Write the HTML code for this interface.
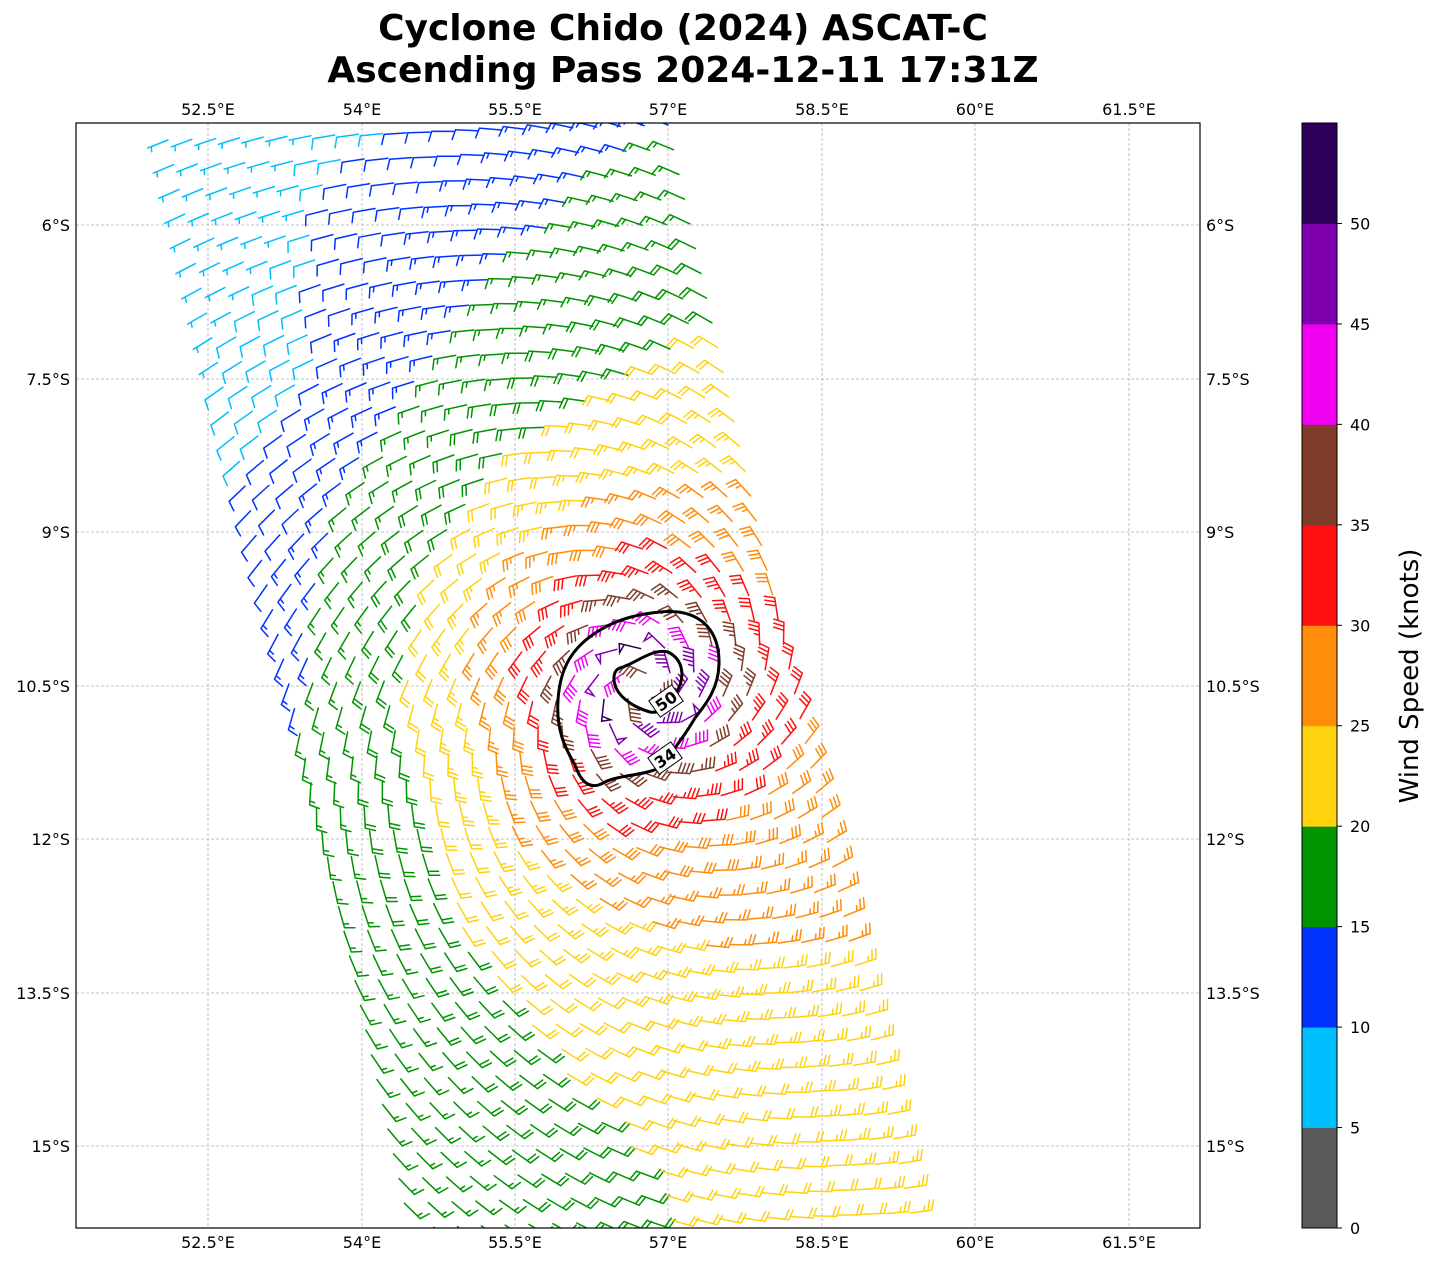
<!DOCTYPE html>
<html><head><meta charset="utf-8">
<style>
html,body{margin:0;padding:0;background:#fff;}
body{width:1438px;height:1264px;overflow:hidden;font-family:"DejaVu Sans","Liberation Sans",sans-serif;}
svg text{font-family:"DejaVu Sans","Liberation Sans",sans-serif;}
</style></head><body>
<svg id="s" width="1438" height="1264" xmlns="http://www.w3.org/2000/svg">
<rect width="1438" height="1264" fill="#fff"/>
<text x="683" y="40" text-anchor="middle" font-size="36" font-weight="bold">Cyclone Chido (2024) ASCAT-C</text>
<text x="683" y="82" text-anchor="middle" font-size="36" font-weight="bold">Ascending Pass 2024-12-11 17:31Z</text>
<defs><clipPath id="cp"><rect x="76" y="123" width="1124" height="1105"/></clipPath></defs>
<g id="grid" stroke="#b0b0b0" stroke-width="0.8" stroke-dasharray="3,2"></g>
<g id="barbs" clip-path="url(#cp)" fill="none" stroke-width="1.5" stroke-linecap="round"></g>
<g clip-path="url(#cp)">
<path d="M660,612 C700,608 720,630 719,665 C718,690 705,705 695,718 C685,735 675,748 660,768 C640,776 620,775 605,782 C592,790 582,785 575,765 C565,748 556,730 558,700 C560,670 570,648 600,630 C620,618 640,614 660,612 Z" fill="none" stroke="#000" stroke-width="3"/>
<path d="M620,668 C635,664 652,648 668,652 C684,660 686,678 675,695 C668,706 660,714 650,712 C636,708 622,700 616,688 C612,678 614,670 620,668 Z" fill="none" stroke="#000" stroke-width="3"/>
<g transform="translate(666,701) rotate(-35)"><rect x="-14" y="-10" width="28" height="20" fill="#fff" stroke="#000" stroke-width="1"/><text x="0" y="6" text-anchor="middle" font-size="16" font-weight="bold">50</text></g>
<g transform="translate(665,758) rotate(-35)"><rect x="-14" y="-10" width="28" height="20" fill="#fff" stroke="#000" stroke-width="1"/><text x="0" y="6" text-anchor="middle" font-size="16" font-weight="bold">34</text></g>
</g>
<rect x="76" y="123" width="1124" height="1105" fill="none" stroke="#000" stroke-width="1.2"/>
<g id="labels" font-size="16"></g>
<g id="cbar"></g>
<text transform="translate(1418,676) rotate(-90)" text-anchor="middle" font-size="26">Wind Speed (knots)</text>
</svg>
<script>
var NS="http://www.w3.org/2000/svg";
function el(t,a,p,txt){var e=document.createElementNS(NS,t);for(var k in a)e.setAttribute(k,a[k]);if(txt!==undefined)e.textContent=txt;p.appendChild(e);return e;}
var grid=document.getElementById('grid'),labels=document.getElementById('labels'),barbs=document.getElementById('barbs'),cbar=document.getElementById('cbar');
var lons=[[52.5,208],[54,362],[55.5,515],[57,668],[58.5,822],[60,975],[61.5,1129]];
var lonl=["52.5°E","54°E","55.5°E","57°E","58.5°E","60°E","61.5°E"];
lons.forEach(function(l,i){el('line',{x1:l[1],y1:123,x2:l[1],y2:1228},grid);
el('text',{x:l[1],y:115,'text-anchor':'middle'},labels,lonl[i]);
el('text',{x:l[1],y:1248,'text-anchor':'middle'},labels,lonl[i]);});
var lats=[[225,"6°S"],[379,"7.5°S"],[532,"9°S"],[686,"10.5°S"],[839,"12°S"],[993,"13.5°S"],[1146,"15°S"]];
lats.forEach(function(l){el('line',{x1:76,y1:l[0],x2:1200,y2:l[0]},grid);
el('text',{x:70,y:l[0]+6,'text-anchor':'end'},labels,l[1]);
el('text',{x:1206,y:l[0]+6,'text-anchor':'start'},labels,l[1]);});
var cols=["#595959","#00bfff","#0033ff","#009400","#ffd20f","#ff8c0a","#ff1010","#7f3c28","#f000f0","#8000b0","#2d0059"];
var bh=1105/11;
for(var i=0;i<11;i++){el('rect',{x:1302,y:1228-(i+1)*bh,width:35,height:bh+0.5,fill:cols[i]},cbar);}
el('rect',{x:1302,y:123,width:35,height:1105,fill:'none',stroke:'#000','stroke-width':1},cbar);
for(var i=0;i<=10;i++){var y=1228-i*bh;el('line',{x1:1337,y1:y,x2:1342,y2:y,stroke:'#000'},cbar);
el('text',{x:1350,y:y+6,'font-size':16},cbar,String(i*5));}
var cx=645,cy=690;
function speed(x,y){var dx=x-cx,dy=y-cy,r=Math.sqrt(dx*dx+dy*dy)+0.01;
var s;if(r<45)s=30+22*r/45;else s=50*Math.pow(45/r,0.45);
var w=Math.min(1,r/250);
s+=w*(0.015*dx+(dy>0?0.006:0.010)*dy);
if(dy<0){s+=4*Math.min(1,-dy/500)*(dx>-330?1:0.3);}
return Math.max(7,s);}
var c=[500/21,-15/21],a=[242/44,1088/44];
for(var j=-2;j<50;j++)for(var i=0;i<22;i++){
var x=168+i*c[0]+j*a[0],y=140+i*c[1]+j*a[1];
if(x<76||x>1200||y<123||y>1235)continue;
var s=speed(x,y);var bin=Math.max(0,Math.min(10,Math.floor(s/5)));var col=cols[bin];
var dx=x-cx,dy=y-cy,r=Math.sqrt(dx*dx+dy*dy)+0.01;
var vx=-dy/r-0.35*dx/r,vy=dx/r-0.35*dy/r;var vn=Math.sqrt(vx*vx+vy*vy);
var d=[-vx/vn,-vy/vn];var n=[d[1],-d[0]];
var L=22;var tx=x+L*d[0],ty=y+L*d[1];
var p='M'+x.toFixed(1)+','+y.toFixed(1)+'L'+tx.toFixed(1)+','+ty.toFixed(1);
var k=Math.round(s/5)*5;var pos=0;
while(k>=50){var b1=[tx-pos*d[0],ty-pos*d[1]];var b2=[b1[0]-5*d[0],b1[1]-5*d[1]];
p+='M'+b1[0].toFixed(1)+','+b1[1].toFixed(1)+'L'+(b1[0]+9*n[0]-2.5*d[0]).toFixed(1)+','+(b1[1]+9*n[1]-2.5*d[1]).toFixed(1)+'L'+b2[0].toFixed(1)+','+b2[1].toFixed(1);k-=50;pos+=7;}
while(k>=10){var b=[tx-pos*d[0],ty-pos*d[1]];p+='M'+b[0].toFixed(1)+','+b[1].toFixed(1)+'L'+(b[0]+10*n[0]+3*d[0]).toFixed(1)+','+(b[1]+10*n[1]+3*d[1]).toFixed(1);k-=10;pos+=4;}
if(k>=5){if(pos==0)pos=4;var b=[tx-pos*d[0],ty-pos*d[1]];p+='M'+b[0].toFixed(1)+','+b[1].toFixed(1)+'L'+(b[0]+5*n[0]+1.5*d[0]).toFixed(1)+','+(b[1]+5*n[1]+1.5*d[1]).toFixed(1);}
el('path',{d:p,stroke:col},barbs);}
</script>
</body></html>
